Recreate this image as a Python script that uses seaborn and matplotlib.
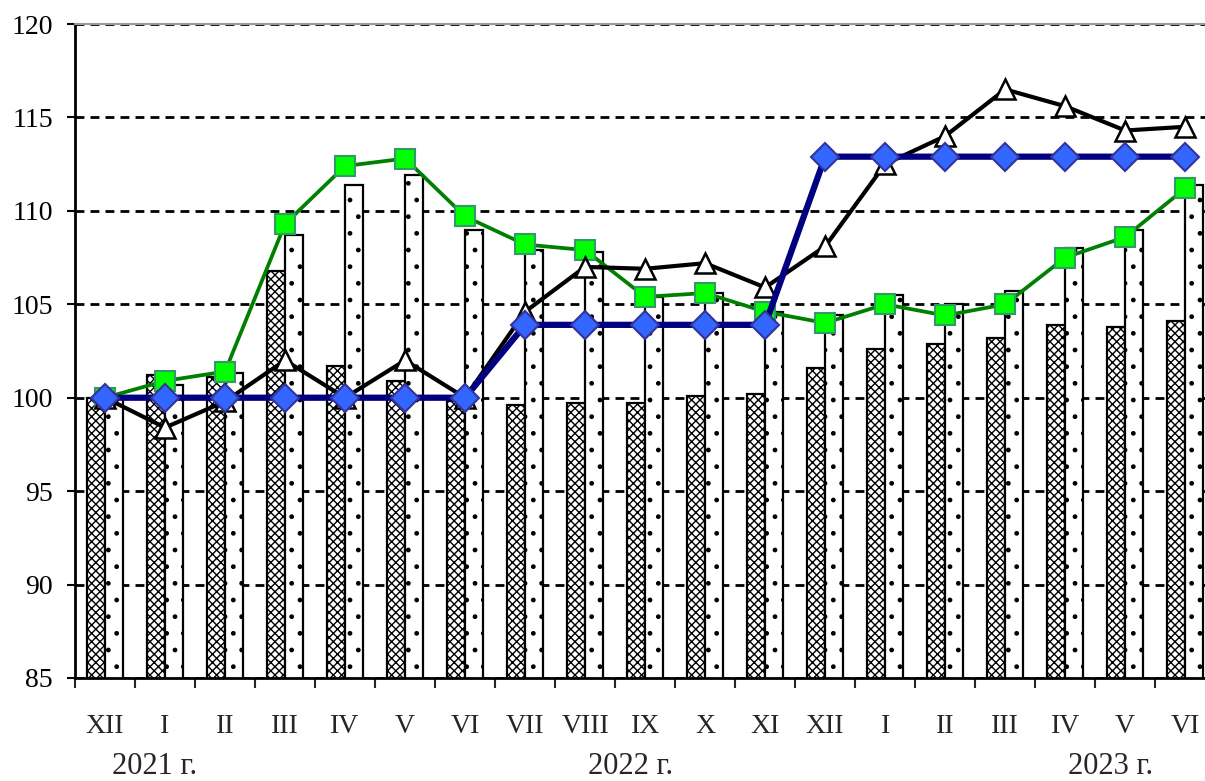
import matplotlib
matplotlib.use("Agg")
import matplotlib.pyplot as plt
import matplotlib.transforms as mtransforms
import numpy as np
import pandas as pd
import seaborn as sns

# ---- data ----
months = ["XII", "I", "II", "III", "IV", "V", "VI", "VII", "VIII", "IX", "X",
          "XI", "XII", "I", "II", "III", "IV", "V", "VI"]
years = ["2021 г.", "2022 г.", "2023 г."]
year_pos = [0.82, 8.75, 16.75]
bars_hatched = [100.0, 101.2, 101.1, 106.8, 101.7, 100.9, 99.8, 99.6, 99.7, 99.7,
                100.1, 100.2, 101.6, 102.6, 102.9, 103.2, 103.9, 103.8, 104.1]
bars_dotted = [100.0, 100.7, 101.3, 108.7, 111.4, 111.9, 109.0, 107.9, 107.8, 105.4,
               105.6, 104.6, 104.4, 105.5, 105.0, 105.7, 108.0, 109.0, 111.4]
line_triangle = [100.0, 98.4, 99.8, 102.0, 100.0, 102.0, 100.0, 104.6, 107.0, 106.9,
                 107.2, 105.9, 108.1, 112.5, 114.0, 116.5, 115.6, 114.3, 114.5]
line_square = [100.0, 100.9, 101.4, 109.3, 112.4, 112.8, 109.7, 108.2, 107.9, 105.4,
               105.6, 104.6, 104.0, 105.0, 104.4, 105.0, 107.5, 108.6, 111.2]
line_diamond = [100.0, 100.0, 100.0, 100.0, 100.0, 100.0, 100.0, 103.9, 103.9, 103.9,
                103.9, 103.9, 112.9, 112.9, 112.9, 112.9, 112.9, 112.9, 112.9]
y_ticks = [85, 90, 95, 100, 105, 110, 115, 120]

sns.set_style("white")
plt.rcParams["font.family"] = ["Liberation Serif", "DejaVu Serif"]
plt.rcParams["hatch.linewidth"] = 1.0

idx = list(range(len(months)))
df_bars = pd.DataFrame({
    "idx": idx * 2,
    "val": bars_hatched + bars_dotted,
    "series": ["a"] * len(idx) + ["b"] * len(idx),
})

fig = plt.figure(figsize=(12.05, 7.81), dpi=100)
ax = fig.add_axes([75 / 1205, 1 - 678 / 781, 1 - 75 / 1205, (678 - 24) / 781])

sns.barplot(data=df_bars, x="idx", y="val", hue="series", palette=["white", "white"],
            edgecolor="black", linewidth=1.6, width=0.6, gap=0, legend=False, ax=ax,
            zorder=2)
for bar in ax.containers[0]:
    bar.set_hatch("xxxx")
for bar in ax.containers[1]:
    bar.set_hatch(".")

sns.lineplot(x=idx, y=line_square, color="#008000", lw=2.7, marker="s", markersize=14,
             markerfacecolor="#00FF00", markeredgecolor="#339966", markeredgewidth=1.5,
             ax=ax, zorder=3)
sns.lineplot(x=idx, y=line_triangle, color="black", lw=3.0, marker="^", markersize=15,
             markerfacecolor="white", markeredgecolor="black", markeredgewidth=1.8,
             ax=ax, zorder=4)
sns.lineplot(x=idx, y=line_diamond, color="#000080", lw=4.5, marker="D", markersize=14,
             markerfacecolor="#3366FF", markeredgecolor="#333399", markeredgewidth=1.5,
             ax=ax, zorder=5)

ax.set_yticks(y_ticks)
ax.set_yticklabels([str(v) for v in y_ticks])
ax.set_xticks(idx)
ax.set_xticklabels(months)
ax.set_xticks(np.arange(-0.5, 18.6, 1.0), minor=True)
ax.set_xlim(-0.5, 18.33)
ax.set_ylim(85, 120)
ax.set_xlabel("")
ax.set_ylabel("")

ax.set_axisbelow(True)
ax.yaxis.grid(True, color="black", linestyle=(0, (3.2, 2.2)), lw=2.0)
ax.xaxis.grid(False)

ax.spines["right"].set_visible(False)
ax.spines["top"].set_color("#999999")
ax.spines["top"].set_linewidth(1.5)
ax.spines["left"].set_color("black")
ax.spines["left"].set_linewidth(2)
ax.spines["bottom"].set_color("black")
ax.spines["bottom"].set_linewidth(2)

ax.tick_params(axis="y", which="major", direction="out", length=6, width=1.5,
               labelsize=20, pad=10, left=True, colors="black")
ax.tick_params(axis="x", which="major", length=0, labelsize=20, pad=26)
ax.tick_params(axis="x", which="minor", direction="out", length=7, width=1.5,
               bottom=True)

trans = mtransforms.blended_transform_factory(ax.transData, fig.transFigure)
for label, pos in zip(years, year_pos):
    ax.text(pos, 1 - 766 / 781, label, transform=trans, ha="center", va="center",
            fontsize=22)

fig.savefig("out.png", dpi=100)
